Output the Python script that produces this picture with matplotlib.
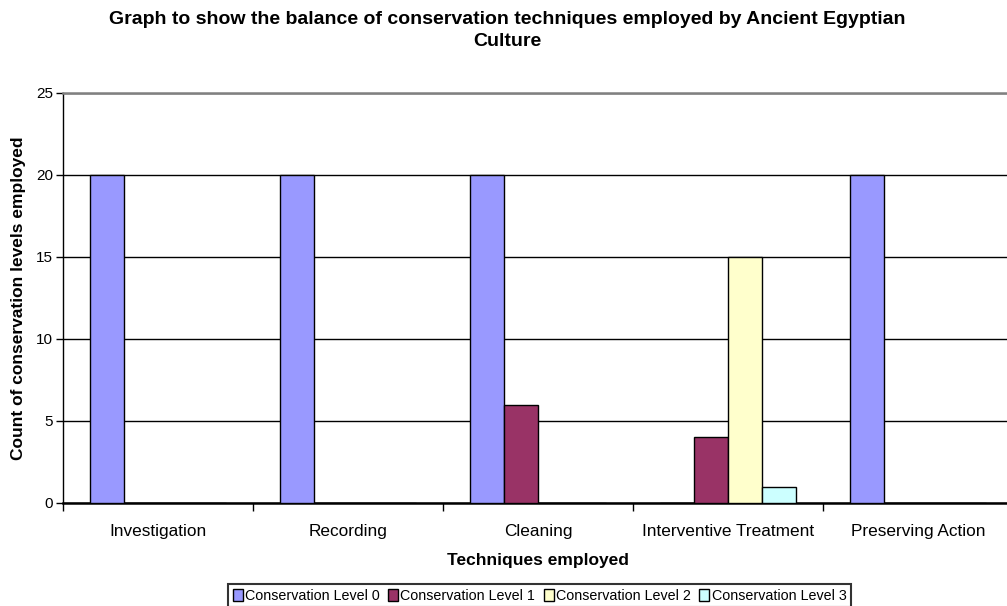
import matplotlib
matplotlib.use("Agg")
import matplotlib.pyplot as plt
import numpy as np

plt.rcParams['font.family'] = ['Liberation Sans', 'DejaVu Sans']

categories = ["Investigation", "Recording", "Cleaning", "Interventive Treatment", "Preserving Action"]
series_names = ["Conservation Level 0", "Conservation Level 1", "Conservation Level 2", "Conservation Level 3"]
level0 = [20, 20, 20, 0, 20]
level1 = [0, 0, 6, 4, 0]
level2 = [0, 0, 0, 15, 0]
level3 = [0, 0, 0, 1, 0]
colors = ["#9999FF", "#993366", "#FFFFCC", "#CCFFFF"]
yticks = [0, 5, 10, 15, 20, 25]

fig = plt.figure(figsize=(10.07, 6.06), dpi=100)
ax = fig.add_axes([63/1007, 1-503/606, 950/1007, 410/606])

n = len(categories)
w = 34/190
x = np.arange(n) + 0.5
series = [level0, level1, level2, level3]
for j, (vals, c, name) in enumerate(zip(series, colors, series_names)):
    ax.bar(x + (j - 1.5) * w, vals, width=w, color=c, edgecolor='black',
           linewidth=1, label=name, zorder=3)

ax.set_xlim(0, n)
ax.set_ylim(0, 25)
ax.set_yticks(yticks)
ax.yaxis.grid(True, color='black', linewidth=1, zorder=0)
ax.set_axisbelow(True)
ax.set_xticks(np.arange(n + 1))
ax.set_xticklabels([])
ax.set_xticks(x, minor=True)
ax.set_xticklabels(categories, minor=True, fontsize=12.4)
ax.tick_params(axis='x', which='minor', length=0, pad=15)
ax.tick_params(axis='x', which='major', length=6, width=1, direction='out', color='black')
ax.tick_params(axis='y', length=5, width=1, direction='out', labelsize=11, pad=2)
ax.spines['right'].set_visible(False)
ax.spines['top'].set_color('#808080')
ax.spines['top'].set_linewidth(1.8)
ax.spines['left'].set_linewidth(1)
ax.spines['bottom'].set_linewidth(1.8)

fig.text(19/1007, 1-298/606, "Count of conservation levels employed", fontsize=12.5,
         fontweight='bold', rotation=90, ha='center', va='center')
fig.text(538/1007, 1-560/606, "Techniques employed", fontsize=12.5, fontweight='bold',
         ha='center', va='center')
fig.text(507/1007, 1-30.5/606, "Graph to show the balance of conservation techniques employed by Ancient Egyptian\nCulture",
         fontsize=14, fontweight='bold', ha='center', va='center', linespacing=1.32)

leg = fig.legend(loc='center', bbox_to_anchor=(539.5/1007, 1-595.5/606), ncol=4, fontsize=10.3,
                 frameon=True, fancybox=False, edgecolor='black', handlelength=0.7, handleheight=0.9,
                 handletextpad=0.15, columnspacing=0.6, borderpad=0.3, borderaxespad=0)
leg.get_frame().set_linewidth(1.5)

fig.savefig("out.png", dpi=100)
